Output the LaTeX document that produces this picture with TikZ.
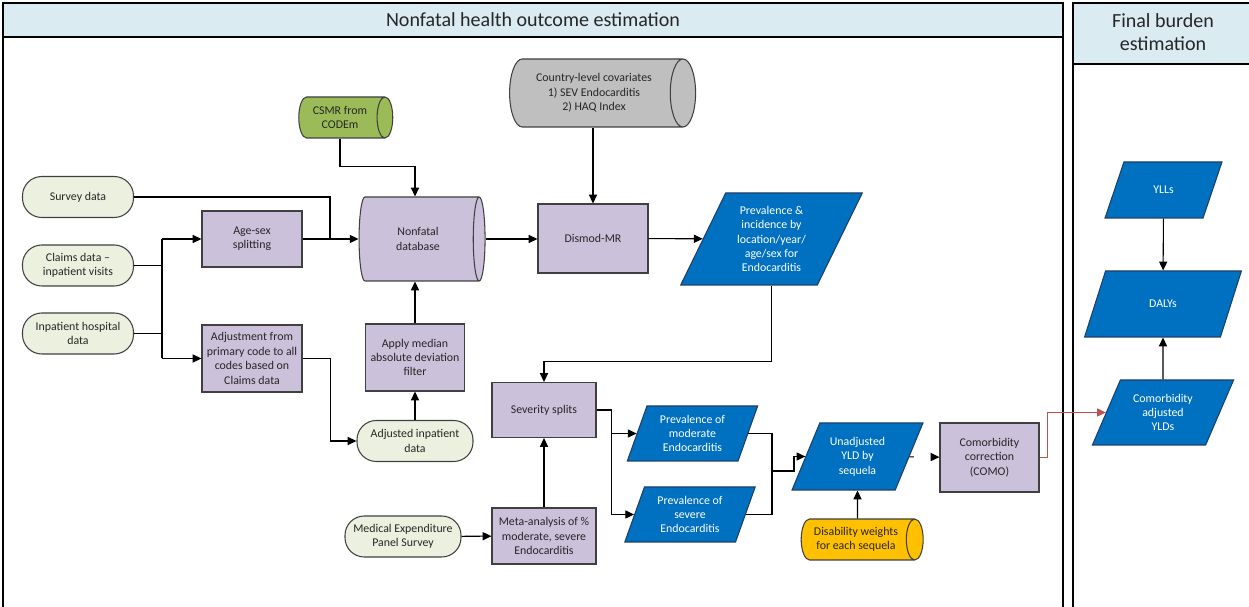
\documentclass[tikz,border=0pt]{standalone}
\usepackage{fontspec}
\setmainfont{Carlito}
\usetikzlibrary{shapes.geometric,shapes.misc,arrows.meta,calc}

\newlength\pxu
\setlength\pxu{0.02cm}

\definecolor{hdrblue}{HTML}{DAEBF2}
\definecolor{lav}{HTML}{CCC1DA}
\definecolor{termgreen}{HTML}{EBF1DE}
\definecolor{dblue}{HTML}{0070C0}
\definecolor{dbluedge}{HTML}{1F3F66}
\definecolor{olive}{HTML}{9BBB59}
\definecolor{covgray}{HTML}{BFBFBF}
\definecolor{gold}{HTML}{FFC000}
\definecolor{linkred}{HTML}{C0504D}
\definecolor{edge}{HTML}{404040}
\definecolor{txt}{HTML}{262626}

% cylinder sizes: minimum width is the diameter, minimum height the length
\tikzset{
  base/.style={font=\fontsize{6.75}{8.2}\selectfont, text=txt, align=center,
    inner sep=1pt, draw=edge, line width=0.6pt},
  procbox/.style={base, rectangle, fill=lav},
  termbox/.style={base, rectangle, rounded corners=11pt, fill=termgreen},
  datastore/.style={base, cylinder, shape border rotate=0, aspect=0.6},
  para/.style={base, trapezium, trapezium stretches=true,
    trapezium left angle=63, trapezium right angle=117,
    fill=dblue, draw=dbluedge, text=white},
  steep/.style={trapezium left angle=70, trapezium right angle=110},
  arr/.style={-{Triangle[length=5pt,width=4.6pt]}, line width=0.6pt, draw=black},
  link/.style={line width=0.6pt, draw=black},
  lane/.style={draw=black, line width=0.8pt},
  lanehead/.style={draw=black, line width=0.8pt, fill=hdrblue},
  lanetitle/.style={font=\fontsize{11.4}{13.4}\selectfont, text=txt, align=center},
}

\begin{document}
\begin{tikzpicture}[x=0.02cm, y=-0.02cm]
\useasboundingbox (0,0) rectangle (1249,607);

% swimlanes
\draw[lane] (3,3) rectangle (1063,615);
\draw[lanehead] (3,3) rectangle (1063,37);
\node[lanetitle] (lt1) at (533,20) {Nonfatal health outcome estimation};
\draw[lane] (1073,3) rectangle (1255,615);
\draw[lanehead] (1073,3) rectangle (1255,64);
\node[lanetitle] (lt2) at (1163,32) {Final burden\\estimation};

% inputs
\node[termbox, minimum width=111\pxu, minimum height=41\pxu] (survey) at (78,197) {Survey data};
\node[termbox, minimum width=111\pxu, minimum height=41\pxu] (claims) at (78,265.5) {Claims data --\\inpatient visits};
\node[termbox, minimum width=111\pxu, minimum height=41\pxu] (inpat) at (78,333.5) {Inpatient hospital\\data};

\node[datastore, fill=olive, minimum height=94\pxu, minimum width=41\pxu] (csmr) at (340,117.5) {CSMR from\\CODEm};
\node[datastore, fill=covgray, minimum height=186\pxu, minimum width=68\pxu] (cov) at (594,93) {Country-level covariates\\1) SEV Endocarditis\\2) HAQ Index};

% processing
\node[procbox, minimum width=100\pxu, minimum height=56\pxu] (agesex) at (252,239) {Age-sex\\splitting};
\node[procbox, minimum width=100\pxu, minimum height=67\pxu] (adjust) at (252,358.5) {Adjustment from\\primary code to all\\codes based on\\Claims data};
\node[datastore, fill=lav, aspect=0.45, minimum height=126\pxu, minimum width=84\pxu] (db) at (418,239) {Nonfatal\\database};
\node[procbox, minimum width=99\pxu, minimum height=67\pxu] (mad) at (415,357.5) {Apply median\\absolute deviation\\filter};
\node[termbox, minimum width=116\pxu, minimum height=41\pxu] (adjinp) at (415,441) {Adjusted inpatient\\data};
\node[procbox, minimum width=110\pxu, minimum height=69\pxu] (dismod) at (593,238.5) {Dismod-MR};
\node[para, minimum width=183\pxu, minimum height=92\pxu] (prev) at (771.5,239) {Prevalence \&\\incidence by\\location/year/\\age/sex for\\Endocarditis};

% severity
\node[procbox, minimum width=104\pxu, minimum height=55\pxu] (sev) at (544,410) {Severity splits};
\node[procbox, minimum width=104\pxu, minimum height=56\pxu] (meta) at (544,536) {Meta-analysis of \%\\moderate, severe\\Endocarditis};
\node[termbox, minimum width=116\pxu, minimum height=41\pxu] (mep) at (403,536.5) {Medical Expenditure\\Panel Survey};
\node[para, steep, minimum width=131\pxu, minimum height=55\pxu] (mod) at (692.5,433.5) {Prevalence of\\moderate\\Endocarditis};
\node[para, steep, minimum width=131\pxu, minimum height=55\pxu] (sevr) at (690,514.5) {Prevalence of\\severe\\Endocarditis};
\node[para, minimum width=131\pxu, minimum height=67\pxu] (unadj) at (857.5,456.5) {Unadjusted\\YLD by\\sequela};
\node[datastore, fill=gold, minimum height=122\pxu, minimum width=41\pxu] (dis) at (856,539.5) {Disability weights\\for each sequela};
\node[procbox, minimum width=99\pxu, minimum height=69\pxu] (como) at (989.5,457.5) {Comorbidity\\correction\\(COMO)};

% final burden
\node[para, minimum width=117\pxu, minimum height=56\pxu] (ylls) at (1163.5,190) {YLLs};
\node[para, minimum width=157\pxu, minimum height=66\pxu] (dalys) at (1163,304) {DALYs};
\node[para, minimum width=142\pxu, minimum height=65\pxu] (cadj) at (1163,412.5) {Comorbidity\\adjusted\\YLDs};

% connectors
\coordinate (sj) at (330,239);
\coordinate (busN) at (162,239);
\coordinate (busS) at (162,358.5);
\coordinate (mj) at (772,471);

\draw[arr] (csmr.south) -- ++(0,28) -| (mad.north |- db.north);
\draw[link] (survey.east) -| (sj);
\draw[arr] (agesex.east) -- (agesex.east -| db.west);
\draw[link] (claims.east) -- (claims.east -| busN);
\draw[link] (inpat.east) -- (inpat.east -| busN);
\draw[link] (busN) -- (busS);
\draw[arr] (busN) -- (agesex.west);
\draw[arr] (busS) -- (adjust.west);
\draw[arr] (adjust.east) -- ++(28,0) |- (adjinp.west);
\draw[arr] (adjinp) -- (mad);
\draw[arr] (mad.north) -- (mad.north |- db.south);
\draw[arr] (db.east) -- (db.east -| dismod.west);
\draw[arr] (cov.south -| dismod.north) -- (dismod.north);
\draw[arr] (dismod) -- (prev);
\draw[arr] (prev.south) -- ++(0,76) -| (sev.north);
\draw[link] (sev.east) -- ++(15,0) coordinate (sp);
\draw[arr] (sp) |- (mod);
\draw[arr] (sp) |- (sevr);
\draw[link] (mod) -| (mj);
\draw[link] (sevr) -| (mj);
\draw[arr] (mj) -- ++(22,0) |- (unadj);
\draw[arr, dash pattern=on 2.5pt off 40pt] (unadj) -- (como);
\draw[arr] (unadj |- dis.north) -- (unadj.south);
\draw[arr] (meta) -- (sev);
\draw[arr] (mep) -- (meta);
\draw[arr, draw=linkred, color=linkred] (como.east) -- ++(8,0) |- (cadj);
\draw[arr] (ylls) -- (dalys);
\draw[arr] (cadj) -- (dalys);
\end{tikzpicture}
\end{document}
